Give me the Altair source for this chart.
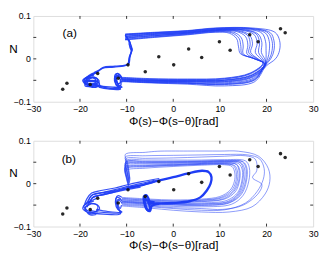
import altair as alt
import pandas as pd

# ---------------- data ----------------
X_TICKS = [-30, -20, -10, 0, 10, 20, 30]
Y_TICKS = [-0.1, -0.05, 0, 0.05, 0.1]
X_INNER = [-20, -10, 0, 10, 20]
Y_INNER = [-0.05, 0, 0.05]

STAR_X = [-23.7, -22.8, -17.8, -16.2, -11.8, -9.7, -6.0, -3.1, 0.1, 3.3, 6.1, 9.9, 12.2, 16.4, 18.2, 23.0, 24.0]
STAR_Y = [-0.071, -0.057, -0.060, -0.034, -0.045, -0.014, -0.030, 0.005, -0.014, 0.023, 0.003, 0.040, 0.020, 0.056, 0.040, 0.070, 0.061]

LABEL_TEXT = ["(a)", "(b)"]
LABEL_X = [-22.2, -22.4]
LABEL_Y = [0.060, 0.057]

# panel (a): loops of the bundle (thin)
A_LOOPS = [
    [(-10.3,0.044),(-4,0.050),(3,0.056),(9,0.062),(12,0.060),(13.6,0.047),(14.0,0.028),(14.4,0.012),(17.0,0.002),(19.2,-0.010),(16.5,-0.033),(11,-0.045),(3,-0.047),(-5,-0.046),(-11,-0.043)],
    [(-10.3,0.045),(-4,0.051),(3,0.057),(9,0.063),(12.5,0.061),(14.1,0.048),(14.5,0.029),(14.7,0.012),(17.2,0.001),(19.3,-0.010),(16.5,-0.034),(11,-0.046),(3,-0.048),(-5,-0.047),(-11,-0.044)],
    [(-10.3,0.046),(-4,0.052),(3,0.058),(9,0.064),(13,0.062),(14.6,0.049),(15.0,0.030),(15.0,0.012),(17.4,0.000),(19.4,-0.011),(16.5,-0.035),(11,-0.047),(3,-0.049),(-5,-0.048),(-11,-0.045)],
    [(-10.3,0.048),(-4,0.054),(3,0.059),(9,0.065),(13.5,0.064),(15.5,0.052),(16.0,0.032),(15.8,0.012),(17.8,-0.001),(19.6,-0.012),(16.8,-0.037),(11,-0.049),(3,-0.050),(-5,-0.049),(-11,-0.046)],
    [(-10.3,0.049),(-4,0.054),(3,0.060),(9,0.066),(13.8,0.065),(16,0.054),(16.5,0.034),(16.2,0.014),(18.0,0.000),(19.6,-0.012),(16.9,-0.038),(11,-0.050),(3,-0.051),(-5,-0.050),(-11,-0.047)],
    [(-10.3,0.050),(-4,0.055),(3,0.060),(9,0.066),(14,0.066),(16.4,0.055),(17.0,0.035),(16.6,0.015),(18.2,0.000),(19.7,-0.012),(17,-0.038),(11,-0.050),(3,-0.051),(-5,-0.050),(-11,-0.047)],
    [(-10.3,0.052),(-4,0.057),(3,0.061),(9,0.067),(14.5,0.067),(17.3,0.057),(18.0,0.037),(17.6,0.015),(18.8,0.000),(19.8,-0.012),(17,-0.040),(11,-0.052),(3,-0.052),(-5,-0.051),(-11,-0.048)],
    [(-10.3,0.052),(-4,0.057),(3,0.062),(9,0.068),(14.8,0.068),(17.8,0.058),(18.5,0.038),(18.3,0.015),(19.2,0.000),(19.9,-0.012),(17.1,-0.041),(11,-0.053),(3,-0.053),(-5,-0.052),(-11,-0.049)],
    [(-10.3,0.053),(-4,0.058),(3,0.062),(9,0.068),(15,0.068),(18.2,0.058),(19.0,0.038),(18.9,0.015),(19.6,0.000),(19.9,-0.012),(17.2,-0.042),(11,-0.054),(3,-0.053),(-5,-0.052),(-11,-0.049)],
    [(-10.3,0.055),(-4,0.059),(3,0.063),(9,0.069),(15.5,0.069),(19,0.060),(19.8,0.040),(19.9,0.020),(19.9,0.002),(19.6,-0.014),(17.4,-0.044),(11,-0.056),(3,-0.055),(-5,-0.053),(-11,-0.050)],
    [(-10.3,0.056),(-4,0.060),(3,0.064),(9,0.070),(16,0.070),(19.8,0.060),(20.6,0.040),(20.6,0.020),(20.3,0.002),(19.5,-0.016),(17.5,-0.046),(11,-0.058),(3,-0.056),(-5,-0.054),(-11,-0.051)],
    [(-10.3,0.057),(-4,0.061),(3,0.065),(9,0.071),(16.3,0.071),(20.3,0.061),(21.2,0.041),(21.2,0.020),(20.7,0.002),(19.5,-0.016),(17.5,-0.048),(11,-0.059),(3,-0.057),(-5,-0.055),(-11,-0.052)],
    [(-10.3,0.057),(-4,0.061),(3,0.065),(9,0.071),(16.5,0.071),(20.8,0.061),(21.6,0.042),(21.6,0.020),(21.0,0.002),(19.6,-0.017),(17.5,-0.049),(11,-0.060),(3,-0.057),(-5,-0.055),(-11,-0.052)],
    [(-10.3,0.058),(-4,0.062),(3,0.066),(9,0.072),(17,0.072),(21.8,0.062),(22.8,0.043),(22.8,0.020),(22.0,0.001),(19.8,-0.018),(17.5,-0.053),(11,-0.063),(3,-0.059),(-5,-0.056),(-11,-0.053)],
]

# panel (a): connector, cluster and hook (medium)
A_LEFT = [
    [(-10.3,0.056),(-9.8,0.048),(-9.4,0.040),(-9.0,0.030),(-8.9,0.020),(-9.4,0.005),(-9.8,-0.013),(-12.7,-0.019),(-15.2,-0.022),(-16.2,-0.030),(-17.5,-0.038),(-18.8,-0.047)],
    [(-10.3,0.046),(-9.6,0.044),(-9.2,0.036),(-9.3,0.028),(-9.0,0.018),(-9.3,0.004),(-9.6,-0.012),(-12.5,-0.017),(-15.0,-0.020),(-16.0,-0.027),(-17.0,-0.032)],
    [(-10.0,0.050),(-9.5,0.042),(-9.4,0.032),(-8.8,0.022),(-9.2,0.010),(-9.6,-0.008)],
    [(-16.2,-0.030),(-17.5,-0.035),(-18.8,-0.045),(-19.2,-0.052),(-18.2,-0.058),(-16.8,-0.056),(-16.2,-0.048),(-17.2,-0.042),(-18.6,-0.048),(-18.4,-0.056),(-17.8,-0.063),(-16.5,-0.066),(-15.8,-0.060),(-16.2,-0.053),(-17.5,-0.050),(-19.0,-0.054),(-18.0,-0.061)],
    [(-16.5,-0.032),(-18,-0.040),(-19.4,-0.050),(-18.6,-0.060),(-17,-0.060),(-15.9,-0.052),(-16.8,-0.044),(-18.2,-0.046),(-19,-0.056),(-17.5,-0.066),(-16,-0.063)],
    [(-17,-0.038),(-18.5,-0.043),(-19,-0.050),(-17.8,-0.053),(-16.6,-0.050),(-17.3,-0.044),(-18.9,-0.058),(-17.2,-0.061),(-16.4,-0.057)],
    [(-15.9,-0.056),(-17,-0.052),(-18.6,-0.052),(-18.9,-0.063),(-17.4,-0.064),(-16.4,-0.062)],
    [(-11,-0.050),(-11.2,-0.041),(-11.9,-0.034),(-12.5,-0.038),(-12.5,-0.050),(-12.2,-0.062),(-11.5,-0.068),(-12.5,-0.069),(-14.5,-0.067),(-16.5,-0.062),(-18,-0.059)],
    [(-11,-0.046),(-11.5,-0.037),(-12.2,-0.036),(-12.2,-0.048),(-11.8,-0.060),(-11.0,-0.066),(-13,-0.066),(-15.5,-0.063),(-17,-0.057)],
    [(-11,-0.055),(-11.5,-0.045),(-12.0,-0.039),(-12.6,-0.045),(-12.3,-0.058),(-11.3,-0.070),(-14,-0.070),(-16,-0.066)],
    [(-11.2,-0.044),(-11.8,-0.040),(-12.2,-0.044),(-12.0,-0.056),(-11.6,-0.064),(-11.2,-0.060),(-11.4,-0.050)],
    [(-11.6,-0.038),(-12.4,-0.042),(-12.3,-0.052),(-11.7,-0.058),(-11.3,-0.054)],
]

# panel (b): outer loops (thin)
B_LOOPS = [
    [(-9.6,-0.006),(-10.0,0.010),(-10.2,0.030),(-6,0.036),(0,0.040),(6,0.043),(11,0.044),(12.6,0.040),(13.2,0.025),(13.1,0.005),(12.2,-0.015),(10,-0.030),(6,-0.036),(0,-0.038),(-5,-0.036),(-11,-0.032)],
    [(-9.6,-0.005),(-10.0,0.012),(-10.2,0.034),(-6,0.039),(0,0.042),(6,0.045),(11,0.046),(12.9,0.042),(13.5,0.027),(13.4,0.004),(12.5,-0.016),(10.2,-0.032),(6,-0.038),(0,-0.040),(-5,-0.038),(-11,-0.034)],
    [(-9.6,-0.004),(-10.0,0.014),(-10.3,0.036),(-6,0.040),(0,0.043),(6,0.045),(11,0.046),(13.2,0.042),(13.8,0.027),(13.7,0.005),(12.8,-0.017),(10.5,-0.033),(6,-0.039),(0,-0.041),(-5,-0.039),(-11,-0.035)],
    [(-9.5,-0.003),(-10.0,0.016),(-10.3,0.038),(-6,0.042),(0,0.044),(6,0.047),(11,0.048),(13.5,0.045),(14.1,0.030),(14.0,0.005),(13.0,-0.018),(10.8,-0.035),(6,-0.041),(0,-0.043),(-5,-0.041),(-11,-0.037)],
    [(-9.5,-0.002),(-10.0,0.018),(-10.3,0.040),(-6,0.043),(0,0.045),(6,0.047),(11,0.048),(13.6,0.045),(14.3,0.030),(14.2,0.006),(13.3,-0.019),(11,-0.036),(6,-0.042),(0,-0.044),(-5,-0.042),(-11,-0.038)],
    [(-9.5,0.000),(-10.0,0.022),(-10.3,0.044),(-6,0.046),(0,0.047),(6,0.049),(11,0.050),(14,0.047),(14.8,0.032),(14.7,0.006),(13.8,-0.021),(11.5,-0.039),(6,-0.045),(0,-0.046),(-5,-0.044),(-11,-0.040)],
    [(-9.4,0.001),(-9.9,0.024),(-10.2,0.046),(-6,0.048),(0,0.049),(6,0.050),(11,0.051),(14.3,0.049),(15.0,0.034),(14.9,0.006),(14.0,-0.022),(11.8,-0.041),(6,-0.047),(0,-0.047),(-5,-0.045),(-11,-0.041)],
    [(-9.4,0.002),(-9.9,0.026),(-10.2,0.048),(-6,0.049),(0,0.050),(6,0.051),(11,0.052),(14.5,0.049),(15.3,0.034),(15.2,0.006),(14.2,-0.023),(12,-0.042),(6,-0.048),(0,-0.048),(-5,-0.046),(-11,-0.042)],
    [(-9.4,0.003),(-9.9,0.028),(-10.2,0.050),(-6,0.051),(0,0.051),(6,0.052),(11,0.053),(14.8,0.051),(15.6,0.036),(15.5,0.006),(14.4,-0.024),(12,-0.044),(6,-0.050),(0,-0.049),(-5,-0.047),(-11,-0.043)],
    [(-9.4,0.004),(-9.9,0.030),(-10.2,0.051),(-6,0.052),(0,0.052),(6,0.053),(11,0.054),(15,0.051),(15.8,0.036),(15.7,0.006),(14.6,-0.025),(12,-0.045),(6,-0.051),(0,-0.050),(-5,-0.048),(-11,-0.044)],
    [(-9.3,0.006),(-9.8,0.034),(-10.1,0.054),(-6,0.055),(0,0.055),(6,0.055),(11,0.056),(15.5,0.053),(16.3,0.038),(16.2,0.006),(15,-0.027),(12.5,-0.048),(6,-0.054),(0,-0.053),(-5,-0.050),(-11,-0.046)],
    [(-9.3,0.008),(-9.8,0.040),(-10.2,0.058),(-6,0.059),(0,0.060),(6,0.062),(11,0.064),(15.5,0.065),(17.6,0.057),(17.9,0.030),(17.0,0.014),(19.0,-0.002),(18.3,-0.022),(15,-0.050),(10.6,-0.060),(6,-0.058),(0,-0.056),(-5,-0.052),(-11,-0.048)],
    [(-9.3,0.010),(-9.8,0.045),(-10.3,0.062),(-6,0.065),(0,0.066),(6,0.067),(11,0.068),(16,0.067),(18.5,0.058),(19.5,0.035),(19.3,0.010),(18,-0.018),(15.5,-0.045),(11,-0.061),(6,-0.062),(0,-0.058),(-5,-0.054),(-11,-0.050)],
    [(-9.3,0.012),(-9.8,0.050),(-10.3,0.068),(-6,0.073),(-3.3,0.0756),(3,0.076),(10,0.076),(14,0.0756),(18.3,0.064),(20.4,0.035),(20.7,0.005),(19.7,-0.024),(16.9,-0.054),(12,-0.066),(6,-0.066),(0,-0.062),(-5,-0.057),(-11,-0.052)],
]

# panel (b): rail, cluster, hooks (medium)
B_LEFT = [
    [(-18.8,-0.050),(-18.2,-0.038),(-17.2,-0.025),(-15,-0.020),(-12.5,-0.014),(-10,-0.007),(-7,0.000),(-4,0.008)],
    [(-18.5,-0.055),(-17.8,-0.040),(-17.0,-0.030),(-15,-0.026),(-12.5,-0.019),(-10,-0.012),(-7,-0.005),(-4,0.004)],
    [(-18.0,-0.045),(-17.3,-0.032),(-16,-0.028),(-13,-0.021),(-10,-0.014),(-7,-0.008)],
    [(-19.0,-0.048),(-18.5,-0.035),(-17.5,-0.022),(-15.5,-0.016),(-12.5,-0.010),(-10,-0.003),(-7,0.004),(-3,0.012)],
    [(-17.5,-0.034),(-15,-0.024),(-12,-0.016),(-9.8,-0.010)],
    [(-18.2,-0.044),(-17.6,-0.028),(-15.5,-0.022),(-13,-0.017),(-10.5,-0.011),(-8,-0.005)],
    [(-16.5,-0.035),(-18,-0.042),(-19.2,-0.052),(-18.5,-0.062),(-17,-0.066),(-15.8,-0.058),(-16.5,-0.048),(-18.2,-0.050),(-19.0,-0.060),(-17.8,-0.070),(-16.2,-0.068)],
    [(-17,-0.040),(-18.8,-0.048),(-19.4,-0.058),(-18.2,-0.067),(-16.5,-0.064),(-16.2,-0.052),(-17.6,-0.046),(-18.8,-0.055),(-18.0,-0.072),(-16.5,-0.072)],
    [(-11,-0.032),(-11.8,-0.028),(-12.3,-0.035),(-12.0,-0.050),(-11.5,-0.062),(-11.2,-0.068),(-13.5,-0.068),(-16,-0.066),(-18,-0.062)],
    [(-11,-0.040),(-11.6,-0.033),(-12.1,-0.032),(-12.4,-0.045),(-11.9,-0.060),(-11.0,-0.066),(-14,-0.065),(-16.5,-0.060)],
    [(-11,-0.046),(-11.4,-0.040),(-12.0,-0.041),(-12.0,-0.055),(-11.3,-0.070),(-15,-0.071),(-17.5,-0.068)],
    [(-11.3,-0.036),(-12.0,-0.038),(-11.8,-0.050),(-11.4,-0.058),(-11.1,-0.050)],
]

# panel (b): inner thick loop and hook
B_THICK = [
    [(-9.8,-0.010),(-7,-0.004),(-3.2,0.007),(0,0.015),(3.2,0.024),(6.2,0.030),(7.6,0.027),(8.2,0.015),(8.0,0.000),(7.2,-0.016),(5.8,-0.032),(3.5,-0.041),(0,-0.045),(-3,-0.046),(-5,-0.045),(-5.3,-0.035),(-5.8,-0.027),(-6.3,-0.030),(-6.2,-0.045),(-5.8,-0.058),(-5.3,-0.063),(-5.0,-0.055),(-5.4,-0.042)],
    [(-4,-0.044),(-5.5,-0.040),(-6.2,-0.033),(-6.0,-0.048),(-5.6,-0.060),(-5.0,-0.064),(-4.6,-0.052),(-3,-0.047)],
]

BLUE = "#1f3df5"
FONT = "Liberation Sans"
PW = 287
PH = 88


def paths_frame(paths, group):
    rows = []
    for pid, pts in enumerate(paths):
        for k, (px, py) in enumerate(pts):
            rows.append({"path": f"{group}{pid}", "k": k, "x": px, "y": py})
    return pd.DataFrame(rows)


xscale = alt.Scale(domain=[-30, 30], nice=False, zero=False)
yscale = alt.Scale(domain=[-0.1, 0.1], nice=False, zero=False)

xaxis = alt.Axis(values=X_TICKS, ticks=False, tickSize=0, domain=False, grid=False,
                 labelExpr="datum.value < 0 ? '\u2212' + abs(datum.value) : '' + datum.value",
                 labelFontSize=9, labelPadding=3, labelColor="black", labelFont=FONT,
                 labelFlush=False,
                 title="Φ(s)−Φ(s−θ)[rad]", titleFontSize=12, titleFontWeight="normal",
                 titleFont=FONT, titleColor="black", titleY=19, titleBaseline="middle")
yaxis = alt.Axis(values=Y_TICKS, ticks=False, tickSize=0, domain=False, grid=False,
                 labelExpr="datum.value < 0 ? '\u2212' + abs(datum.value) : '' + datum.value",
                 labelFontSize=9, labelPadding=3, labelColor="black", labelFont=FONT,
                 labelFlush=False,
                 title="N", titleAngle=0, titleFontSize=12, titleFontWeight="normal",
                 titleFont=FONT, titleColor="black", titleX=-21, titleY=33,
                 titleAlign="center", titleBaseline="middle")

stars = pd.DataFrame({"x": STAR_X, "y": STAR_Y})
xt = pd.DataFrame({"t": X_INNER})
yt = pd.DataFrame({"t": Y_INNER})


def line_layer(df, width, opacity):
    return alt.Chart(df).mark_line(strokeWidth=width, color=BLUE, opacity=opacity,
                                   interpolate="catmull-rom").encode(
        x=alt.X("x:Q", scale=xscale, axis=xaxis),
        y=alt.Y("y:Q", scale=yscale, axis=yaxis),
        detail="path:N", order="k:Q")


def panel(idx, layers):
    star_layer = alt.Chart(stars).mark_point(filled=True, shape="circle", size=13,
                                             color="#111", opacity=0.9).encode(
        x=alt.X("x:Q", scale=xscale), y=alt.Y("y:Q", scale=yscale))
    lab = pd.DataFrame({"x": [LABEL_X[idx]], "y": [LABEL_Y[idx]], "t": [LABEL_TEXT[idx]]})
    label_layer = alt.Chart(lab).mark_text(fontSize=12, font=FONT,
                                           color="black").encode(
        x=alt.X("x:Q", scale=xscale), y=alt.Y("y:Q", scale=yscale), text="t:N")
    tb = alt.Chart(xt).mark_rule(color="black", strokeWidth=0.8).encode(
        x=alt.X("t:Q", scale=xscale), y=alt.value(PH), y2=alt.value(PH - 3))
    tt = alt.Chart(xt).mark_rule(color="black", strokeWidth=0.8).encode(
        x=alt.X("t:Q", scale=xscale), y=alt.value(0), y2=alt.value(3))
    tl = alt.Chart(yt).mark_rule(color="black", strokeWidth=0.8).encode(
        y=alt.Y("t:Q", scale=yscale), x=alt.value(0), x2=alt.value(3))
    tr = alt.Chart(yt).mark_rule(color="black", strokeWidth=0.8).encode(
        y=alt.Y("t:Q", scale=yscale), x=alt.value(PW), x2=alt.value(PW - 3))
    return alt.layer(*layers, star_layer, label_layer, tb, tt, tl, tr).properties(width=PW, height=PH)


pa = panel(0, [line_layer(paths_frame(A_LOOPS, "a"), 0.9, 0.8),
               line_layer(paths_frame(A_LEFT, "al"), 1.4, 0.95)])
pb = panel(1, [line_layer(paths_frame(B_LOOPS, "b"), 0.8, 0.65),
               line_layer(paths_frame(B_LEFT, "bl"), 1.2, 0.9),
               line_layer(paths_frame(B_THICK, "bt"), 2.4, 1.0)])

chart = alt.vconcat(pa, pb, spacing=40, bounds="flush").properties(
    padding={"left": 0, "top": 0, "right": 0, "bottom": 0}
).configure_view(stroke="black", strokeWidth=1).configure(background="white")

chart.save("out.html", embed_options={"renderer": "svg", "actions": False})
